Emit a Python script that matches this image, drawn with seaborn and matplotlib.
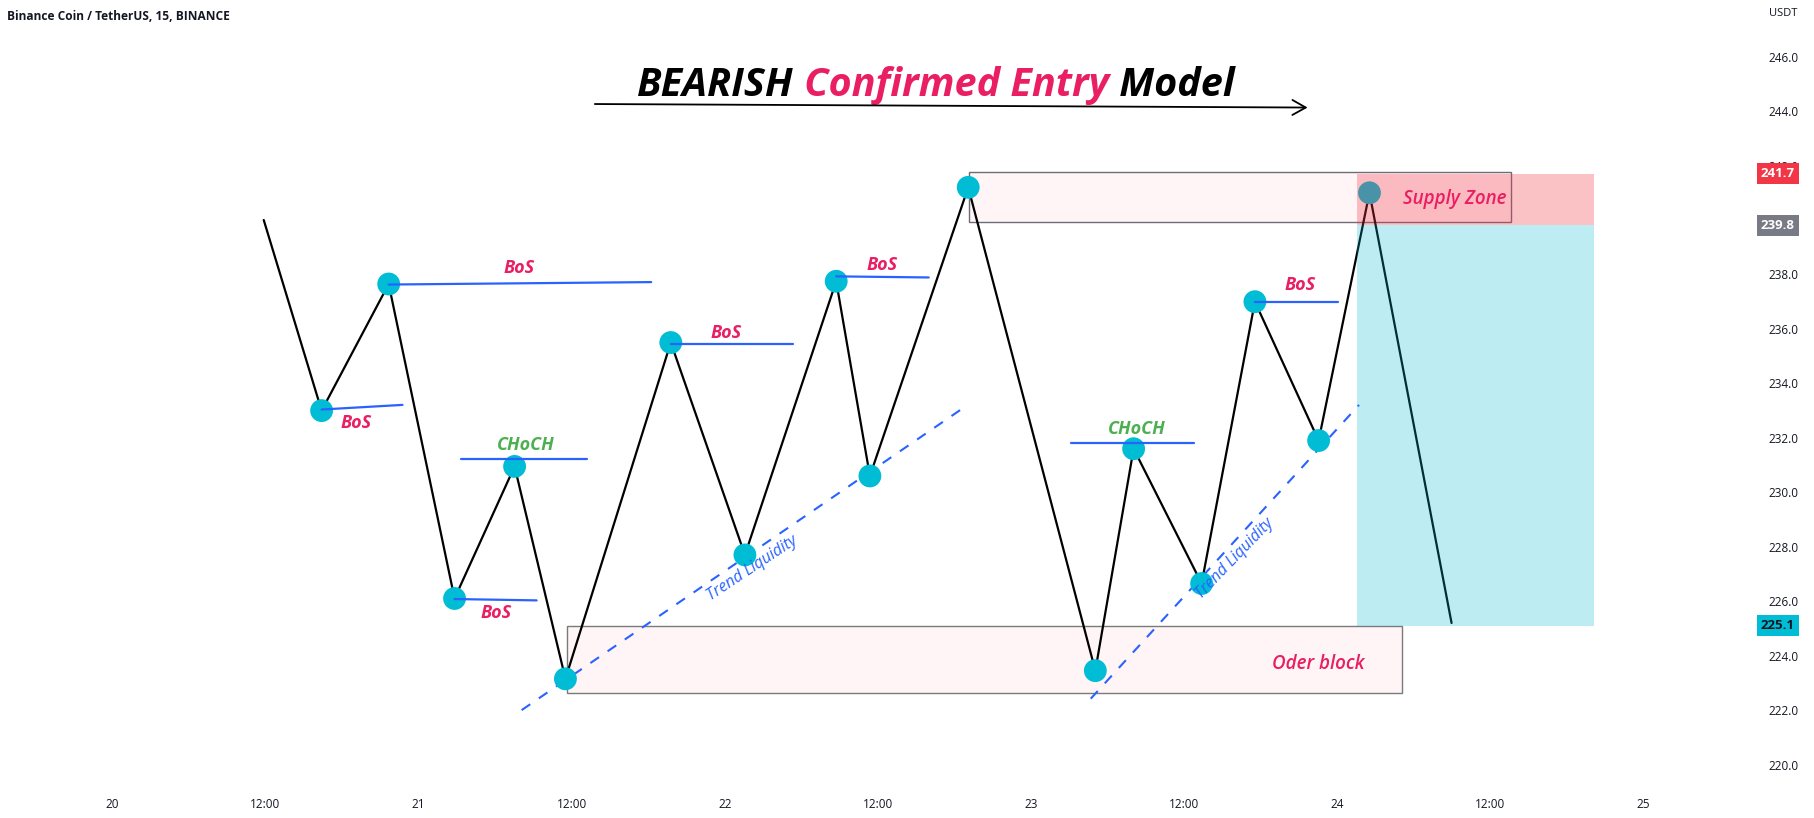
import numpy as np
import pandas as pd
import matplotlib
matplotlib.use("Agg")
import matplotlib.pyplot as plt
import seaborn as sns
from matplotlib.patches import Rectangle
from matplotlib import transforms

# ---------------- data ----------------
swing_day = [20.495, 20.684, 20.903, 21.118, 21.314, 21.480, 21.824, 22.066, 22.364,
             22.474, 22.795, 23.210, 23.335, 23.557, 23.731, 23.939, 24.105, 24.373]
swing_price = [240.0, 233.0, 237.65, 226.1, 230.95, 223.15, 235.5, 227.7, 237.75,
               230.6, 241.2, 223.45, 231.6, 226.65, 237.0, 231.9, 241.0, 225.2]
swing_dot = [False] + [True] * 16 + [False]

# structure lines
struct_x0 = [20.684, 20.903, 21.140, 21.118, 21.824, 22.364, 23.131, 23.731]
struct_x1 = [20.948, 21.760, 21.552, 21.386, 22.224, 22.666, 23.531, 24.003]
struct_y0 = [233.04, 237.63, 231.22, 226.08, 235.46, 237.93, 231.81, 236.99]
struct_y1 = [233.21, 237.72, 231.22, 226.03, 235.46, 237.89, 231.81, 236.99]

label_text = ["BoS", "BoS", "CHoCH", "BoS", "BoS", "BoS", "CHoCH", "BoS"]
label_x = [20.797, 21.329, 21.352, 21.254, 22.005, 22.515, 23.346, 23.878]
label_y = [232.53, 238.23, 231.73, 225.57, 235.85, 238.35, 232.32, 237.63]

trend_x0 = [21.337, 23.195]
trend_x1 = [22.783, 24.071]
trend_y0 = [222.0, 222.42]
trend_y1 = [233.13, 233.21]
trend_lbl_x = [22.089, 23.666]
trend_lbl_y = [227.22, 227.55]
trend_lbl_rot = [33.5, 46.0]

orderblock = (21.484, 24.211, 222.64, 225.1)
supplybox = (22.798, 24.566, 239.93, 241.75)
stop_zone = (24.063, 24.838, 239.8, 241.7)
target_zone = (24.063, 24.838, 225.1, 239.8)

price_tags = [241.7, 239.8, 225.1]
price_tag_colors = ["#f23645", "#787b86", "#00bcd4"]
price_tag_text = ["white", "white", "#131722"]

x_ticks = [20, 20.5, 21, 21.5, 22, 22.5, 23, 23.5, 24, 24.5, 25]
x_labels = ["20", "12:00", "21", "12:00", "22", "12:00", "23", "12:00", "24", "12:00", "25"]
y_ticks = [220, 222, 224, 226, 228, 230, 232, 234, 236, 238, 240, 242, 244, 246]

arrow_x = [21.567, 23.912]
arrow_y = [244.26, 244.13]

# ---------------- figure ----------------
sns.set_theme(style="white")
plt.rcParams["font.family"] = ["Open Sans", "DejaVu Sans"]

W, H = 1814, 818
fig = plt.figure(figsize=(W / 100, H / 100), dpi=100)
ax = fig.add_axes([0, 1 - 785 / H, 1745 / W, 785 / H])
ax.set_xlim(19.634, 25.331)
ax.set_ylim(219.25, 248.08)
for s in ax.spines.values():
    s.set_visible(False)

df = pd.DataFrame({"day": swing_day, "price": swing_price, "dot": swing_dot})
sns.lineplot(data=df, x="day", y="price", sort=False, color="black", lw=1.6,
             ax=ax, zorder=3, estimator=None)
sns.scatterplot(data=df[df["dot"]], x="day", y="price", color="#00bcd4", s=270,
                edgecolor="none", ax=ax, zorder=4)

# structure lines (drawn over the dots)
for x0, x1, y0, y1 in zip(struct_x0, struct_x1, struct_y0, struct_y1):
    ax.plot([x0, x1], [y0, y1], color="#2962ff", lw=1.6, zorder=4.5)
for t, x, y in zip(label_text, label_x, label_y):
    col = "#4caf50" if t == "CHoCH" else "#e91e63"
    ax.text(x, y, t, color=col, fontsize=13, fontweight="bold", fontstyle="italic",
            ha="center", va="center", zorder=6)

# trend liquidity
for x0, x1, y0, y1 in zip(trend_x0, trend_x1, trend_y0, trend_y1):
    ax.plot([x0, x1], [y0, y1], color="#2962ff", lw=1.5, ls=(0, (5, 5)), zorder=2.7)
for x, y, r in zip(trend_lbl_x, trend_lbl_y, trend_lbl_rot):
    ax.text(x, y, "Trend Liquidity", color="#2962ff", fontsize=11.5, fontstyle="italic",
            rotation=r, ha="center", va="center", rotation_mode="anchor", zorder=6)

# boxes
def rect(b, **kw):
    x0, x1, y0, y1 = b
    ax.add_patch(Rectangle((x0, y0), x1 - x0, y1 - y0, **kw))

rect(orderblock, facecolor="#fff4f6", edgecolor="#7a7a7a", lw=1.0, zorder=1)
rect(supplybox, facecolor="#fff4f6", edgecolor="#6d6d78", lw=1.0, zorder=1)
rect(stop_zone, facecolor="#f23645", alpha=0.3, edgecolor="none", zorder=5)
rect(target_zone, facecolor="#00bcd4", alpha=0.26, edgecolor="none", zorder=5)

ax.text(23.939, 223.70, "Oder block", color="#e91e63", fontsize=13.5,
        fontweight="semibold", fontstyle="italic", ha="center", va="center", zorder=6)
ax.text(24.384, 240.78, "Supply Zone", color="#e91e63", fontsize=13.5,
        fontweight="semibold", fontstyle="italic", ha="center", va="center", zorder=6)

# title with arrow
tkw = dict(fontsize=28.5, fontweight="bold", fontstyle="italic", zorder=6)
t1 = ax.text(21.714, 244.55, "BEARISH", color="black", ha="left", va="baseline", **tkw)
t2 = ax.annotate(" Confirmed Entry", xy=(1, 0), xycoords=t1, ha="left", va="bottom",
                 color="#e91e63", **tkw)
t3 = ax.annotate(" Model", xy=(1, 0), xycoords=t2, ha="left", va="bottom",
                 color="black", **tkw)
ax.annotate("", xy=(arrow_x[1], arrow_y[1]), xytext=(arrow_x[0], arrow_y[0]),
            arrowprops=dict(arrowstyle="->,head_length=0.8,head_width=0.45",
                            color="black", lw=1.3), zorder=6)

# axes ticks
ax.set_xticks(x_ticks)
ax.set_xticklabels(x_labels)
ax.set_yticks(y_ticks)
ax.set_yticklabels([f"{v:.1f}" for v in y_ticks])
ax.yaxis.tick_right()
ax.tick_params(axis="y", length=0, pad=17, labelsize=8.5, labelcolor="#131722")
ax.tick_params(axis="x", length=0, pad=9, labelsize=8.5, labelcolor="#131722")
ax.set_xlabel("")
ax.set_ylabel("")
ax.grid(False)

bt = transforms.blended_transform_factory(ax.transAxes, ax.transData)
for p, c, tc in zip(price_tags, price_tag_colors, price_tag_text):
    ax.text(1778 / 1745, p, f"{p:.1f}", transform=bt, ha="center", va="center",
            fontsize=9.5, fontweight="bold", color=tc, clip_on=False, zorder=10,
            bbox=dict(boxstyle="square,pad=0.3", facecolor=c, edgecolor="none"))

fig.text(1769 / W, 1 - 14 / H, "USDT", fontsize=8, color="#131722", ha="left", va="center")
fig.text(7 / W, 1 - 16 / H, "Binance Coin / TetherUS, 15, BINANCE", fontsize=8.6,
         fontweight="bold", color="#131722", ha="left", va="center")

fig.savefig("out.png", dpi=100, facecolor="white")
